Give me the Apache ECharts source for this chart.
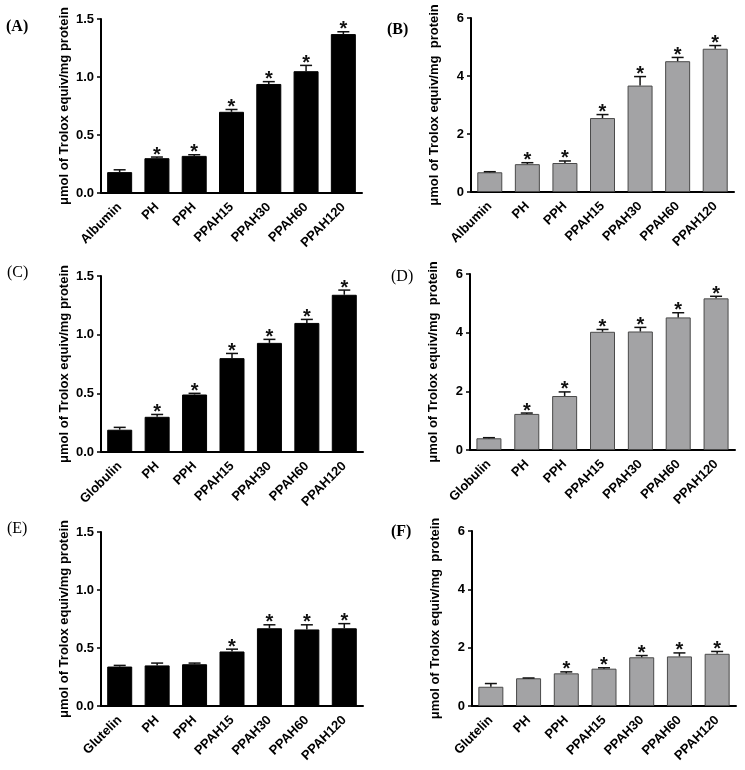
<!DOCTYPE html>
<html>
<head>
<meta charset="utf-8">
<script src="https://cdn.jsdelivr.net/npm/echarts@6/dist/echarts.min.js"></script>
<style>
  html, body { margin: 0; padding: 0; background: #fff; }
  #chart { width: 745px; height: 770px; }
</style>
</head>
<body>
<div id="chart"></div>
<script>
// categories
const catsAlbumin = ["Albumin", "PH", "PPH", "PPAH15", "PPAH30", "PPAH60", "PPAH120"];
const catsGlobulin = ["Globulin", "PH", "PPH", "PPAH15", "PPAH30", "PPAH60", "PPAH120"];
const catsGlutelin = ["Glutelin", "PH", "PPH", "PPAH15", "PPAH30", "PPAH60", "PPAH120"];

// (A) albumin, first assay
const valuesA = [0.18, 0.30, 0.32, 0.70, 0.94, 1.05, 1.37];
const errorsA = [0.02, 0.01, 0.01, 0.02, 0.02, 0.05, 0.02];
const starsA = [0, 1, 1, 1, 1, 1, 1];
// (B) albumin, second assay
const valuesB = [0.68, 0.96, 1.00, 2.55, 3.67, 4.51, 4.94];
const errorsB = [0.02, 0.05, 0.07, 0.12, 0.31, 0.13, 0.11];
const starsB = [0, 1, 1, 1, 1, 1, 1];
// (C) globulin
const valuesC = [0.19, 0.30, 0.49, 0.80, 0.93, 1.10, 1.34];
const errorsC = [0.02, 0.02, 0.01, 0.04, 0.03, 0.03, 0.04];
const starsC = [0, 1, 1, 1, 1, 1, 1];
// (D)
const valuesD = [0.40, 1.23, 1.84, 4.03, 4.04, 4.52, 5.17];
const errorsD = [0.02, 0.03, 0.14, 0.08, 0.14, 0.16, 0.07];
const starsD = [0, 1, 1, 1, 1, 1, 1];
// (E) glutelin
const valuesE = [0.34, 0.35, 0.36, 0.47, 0.67, 0.66, 0.67];
const errorsE = [0.01, 0.02, 0.01, 0.02, 0.03, 0.04, 0.04];
const starsE = [0, 0, 0, 1, 1, 1, 1];
// (F)
const valuesF = [0.66, 0.95, 1.12, 1.28, 1.67, 1.70, 1.79];
const errorsF = [0.11, 0.01, 0.05, 0.03, 0.06, 0.12, 0.08];
const starsF = [0, 0, 1, 1, 1, 1, 1];

// y axis ticks
const ticksSmall = { max: 1.5, interval: 0.5, digits: 1 };
const ticksBig = { max: 6, interval: 2, digits: 0 };

const nameLeft = "μmol of Trolox equiv/mg protein";
const nameRight = "μmol of Trolox equiv/mg  protein";

const font = "Liberation Sans, Arial, sans-serif";
const black = "#000";
const gray = "#a3a3a5";

const panels = [
  { tag: "(A)", bold: true, cats: catsAlbumin, vals: valuesA, errs: errorsA, stars: starsA, ticks: ticksSmall, name: nameLeft, color: black, grid: { left: 101, top: 19, width: 261, height: 174 }, lab: [6, 28] },
  { tag: "(B)", bold: true, cats: catsAlbumin, vals: valuesB, errs: errorsB, stars: starsB, ticks: ticksBig, name: nameRight, color: gray, grid: { left: 471, top: 18, width: 263, height: 174 }, lab: [387, 31] },
  { tag: "(C)", bold: false, cats: catsGlobulin, vals: valuesC, errs: errorsC, stars: starsC, ticks: ticksSmall, name: nameLeft, color: black, grid: { left: 101, top: 276, width: 262, height: 176 }, lab: [7, 274] },
  { tag: "(D)", bold: false, cats: catsGlobulin, vals: valuesD, errs: errorsD, stars: starsD, ticks: ticksBig, name: nameRight, color: gray, grid: { left: 470, top: 274, width: 265, height: 176 }, lab: [391, 278] },
  { tag: "(E)", bold: false, cats: catsGlutelin, vals: valuesE, errs: errorsE, stars: starsE, ticks: ticksSmall, name: nameLeft, color: black, grid: { left: 101, top: 532, width: 262, height: 174 }, lab: [7, 530] },
  { tag: "(F)", bold: true, cats: catsGlutelin, vals: valuesF, errs: errorsF, stars: starsF, ticks: ticksBig, name: nameRight, color: gray, grid: { left: 472, top: 531, width: 264, height: 175 }, lab: [391, 533] }
];

const grid = [], xAxis = [], yAxis = [], series = [], graphic = [];

panels.forEach((p, i) => {
  grid.push(p.grid);
  xAxis.push({
    type: "category",
    gridIndex: i,
    data: p.cats,
    axisLine: { lineStyle: { color: "#000", width: 2 } },
    axisTick: { alignWithLabel: true, length: 4, lineStyle: { color: "#000", width: 1.5 } },
    axisLabel: { rotate: 45, margin: 12, color: "#000", fontSize: 13, fontWeight: "bold", fontFamily: font, interval: 0 }
  });
  yAxis.push({
    type: "value",
    gridIndex: i,
    min: 0,
    max: p.ticks.max,
    interval: p.ticks.interval,
    name: p.name,
    nameLocation: "middle",
    nameGap: 30,
    nameTextStyle: { color: "#000", fontSize: 13, fontWeight: "bold", fontFamily: font },
    splitLine: { show: false },
    axisLine: { show: true, lineStyle: { color: "#000", width: 2 } },
    axisTick: { show: true, length: 4, lineStyle: { color: "#000", width: 1.5 } },
    axisLabel: {
      margin: 7, color: "#000", fontSize: 13, fontWeight: "bold", fontFamily: font,
      formatter: v => v.toFixed(p.ticks.digits)
    }
  });
  series.push({
    type: "bar",
    xAxisIndex: i,
    yAxisIndex: i,
    data: p.vals,
    barWidth: 25,
    itemStyle: { color: p.color, borderColor: p.color === gray ? "#4a4a4a" : "#000", borderWidth: 1 },
    silent: true
  });
  series.push({
    type: "custom",
    xAxisIndex: i,
    yAxisIndex: i,
    z: 5,
    data: p.vals.map((v, k) => [k, v, p.errs[k], p.stars[k]]),
    encode: { x: 0, y: 1 },
    renderItem: (params, api) => {
      const k = api.value(0);
      const base = api.coord([k, api.value(1)]);
      const top = api.coord([k, api.value(1) + api.value(2)]);
      const kids = [
        { type: "line", shape: { x1: base[0], y1: base[1], x2: top[0], y2: top[1] }, style: { stroke: "#111", lineWidth: 1.5 } },
        { type: "line", shape: { x1: top[0] - 6, y1: top[1], x2: top[0] + 6, y2: top[1] }, style: { stroke: "#111", lineWidth: 1.5 } }
      ];
      if (api.value(3)) {
        kids.push({
          type: "text",
          style: { text: "*", x: top[0], y: top[1] - 2, align: "center", verticalAlign: "middle", fill: "#111", font: "bold 20px " + font }
        });
      }
      return { type: "group", children: kids };
    },
    silent: true
  });
  graphic.push({
    type: "text",
    left: p.lab[0],
    top: p.lab[1] - 9,
    style: { text: p.tag, fill: "#000", font: (p.bold ? "bold " : "") + "16px 'Liberation Serif', 'Times New Roman', serif" }
  });
});

const chart = echarts.init(document.getElementById("chart"));
chart.setOption({
  animation: false,
  grid: grid,
  xAxis: xAxis,
  yAxis: yAxis,
  series: series,
  graphic: graphic
});
</script>
</body>
</html>
